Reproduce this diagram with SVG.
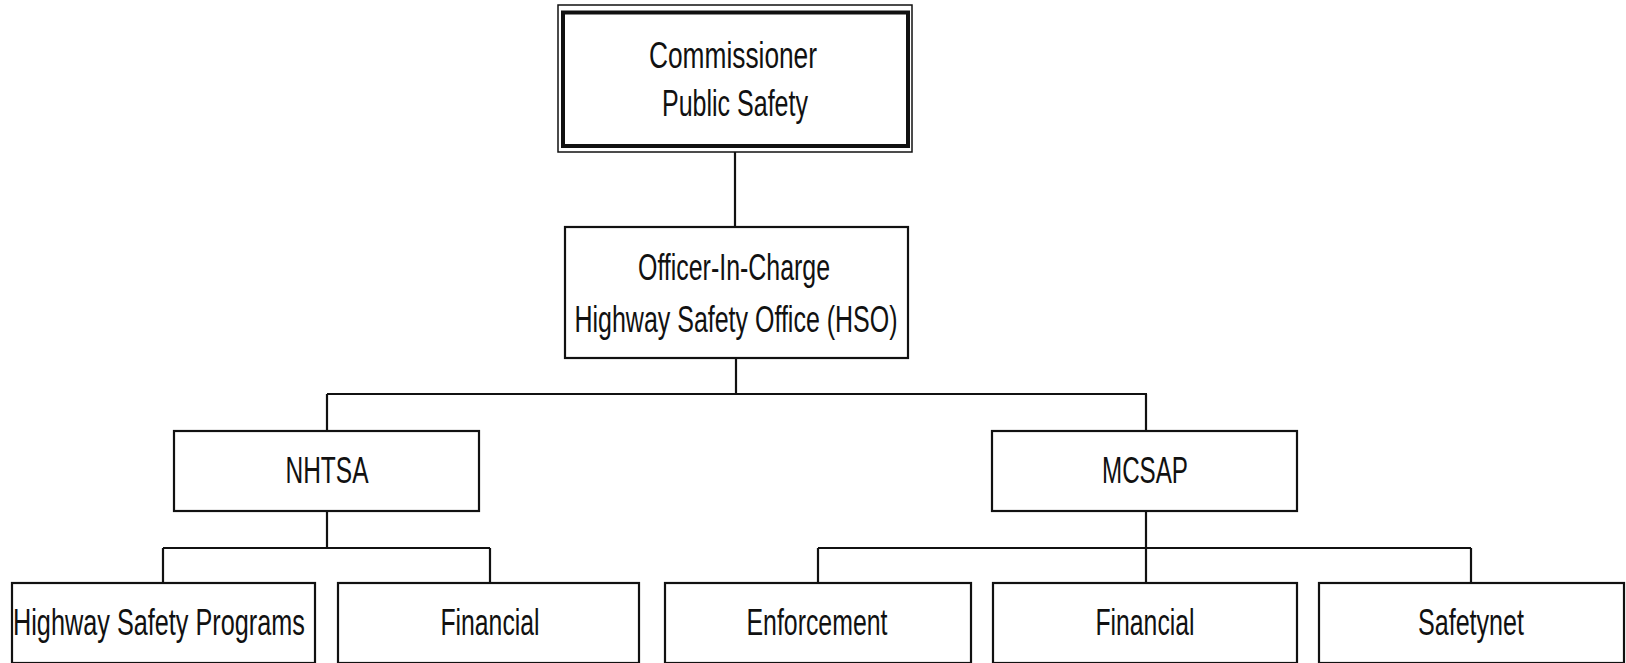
<svg xmlns="http://www.w3.org/2000/svg" width="1626" height="663" viewBox="0 0 1626 663">
<style>
.box{fill:#fff;stroke:#111;stroke-width:2.2}
.c{fill:none;stroke:#111;stroke-width:2.2}
.t{font-family:"Liberation Sans",Arial,sans-serif;font-size:36px;fill:#111;text-anchor:middle}
</style>
<rect width="1626" height="663" fill="#fff"/>
<g id="connectors">
<path class="c" d="M735 152V227M736 358V394M327 394H1147M327 394V431M1146 394V431M327 511V548M163 548H490M163 548V583M490 548V583M1146 511V583M818 548H1471M818 548V583M1471 548V583"/>
</g>
<g id="commissioner">
<rect x="558" y="5" width="354" height="147" fill="#fff" stroke="#111" stroke-width="1.5"/>
<rect x="563" y="12.5" width="345" height="133.5" fill="#fff" stroke="#111" stroke-width="4"/>
<text class="t" x="733" y="68" textLength="168" lengthAdjust="spacingAndGlyphs">Commissioner</text>
<text class="t" x="735" y="116" textLength="146" lengthAdjust="spacingAndGlyphs">Public Safety</text>
</g>
<g id="hso">
<rect class="box" x="565" y="227" width="343" height="131"/>
<text class="t" x="734" y="280" textLength="192" lengthAdjust="spacingAndGlyphs">Officer-In-Charge</text>
<text class="t" x="736" y="332" textLength="323" lengthAdjust="spacingAndGlyphs">Highway Safety Office (HSO)</text>
</g>
<g id="nhtsa">
<rect class="box" x="174" y="431" width="305" height="80"/>
<text class="t" x="327" y="483" textLength="83" lengthAdjust="spacingAndGlyphs">NHTSA</text>
</g>
<g id="mcsap">
<rect class="box" x="992" y="431" width="305" height="80"/>
<text class="t" x="1145" y="483" textLength="86" lengthAdjust="spacingAndGlyphs">MCSAP</text>
</g>
<g id="hsp">
<rect class="box" x="12" y="583" width="303" height="80"/>
<text class="t" x="159" y="635" textLength="292" lengthAdjust="spacingAndGlyphs">Highway Safety Programs</text>
</g>
<g id="financial1">
<rect class="box" x="338" y="583" width="301" height="80"/>
<text class="t" x="490" y="635" textLength="99" lengthAdjust="spacingAndGlyphs">Financial</text>
</g>
<g id="enforcement">
<rect class="box" x="665" y="583" width="306" height="80"/>
<text class="t" x="817" y="635" textLength="141" lengthAdjust="spacingAndGlyphs">Enforcement</text>
</g>
<g id="financial2">
<rect class="box" x="993" y="583" width="304" height="80"/>
<text class="t" x="1145" y="635" textLength="99" lengthAdjust="spacingAndGlyphs">Financial</text>
</g>
<g id="safetynet">
<rect class="box" x="1319" y="583" width="305" height="80"/>
<text class="t" x="1471" y="635" textLength="106" lengthAdjust="spacingAndGlyphs">Safetynet</text>
</g>
</svg>
